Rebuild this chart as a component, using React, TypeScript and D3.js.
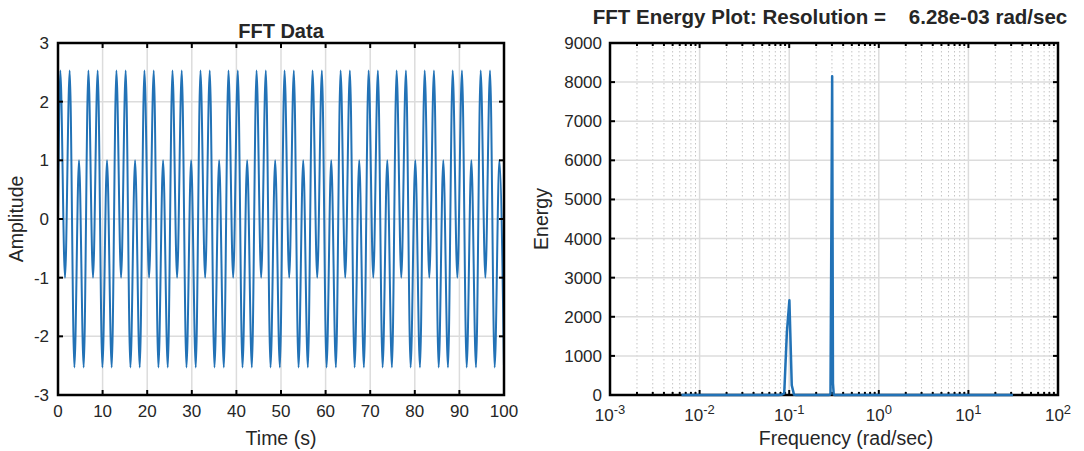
import * as d3 from 'd3';

// left panel: extrema of the time signal (t in s)
const timeS = [
  0, 0.52, 1.57, 2.62, 3.67, 4.71, 5.76, 6.81, 7.85, 8.9, 9.95, 10.99, 12.04,
  13.09, 14.14, 15.18, 16.23, 17.28, 18.33, 19.37, 20.42, 21.47, 22.51, 23.56, 24.61,
  25.66, 26.7, 27.75, 28.8, 29.85, 30.89, 31.94, 32.99, 34.03, 35.08, 36.13, 37.18,
  38.22, 39.27, 40.32, 41.36, 42.41, 43.46, 44.51, 45.55, 46.6, 47.65, 48.69, 49.74,
  50.79, 51.84, 52.88, 53.93, 54.98, 56.02, 57.07, 58.12, 59.17, 60.21, 61.26, 62.31,
  63.36, 64.4, 65.45, 66.5, 67.54, 68.59, 69.64, 70.69, 71.73, 72.78, 73.83, 74.87,
  75.92, 76.97, 78.02, 79.06, 80.11, 81.16, 82.21, 83.25, 84.3, 85.35, 86.39, 87.44,
  88.49, 89.54, 90.58, 91.63, 92.68, 93.72, 94.77, 95.82, 96.87, 97.91, 98.96, 100,
];
const amplitude = [
  0,
  2.53, -1, 2.53, -2.53, 1, -2.53,
  2.53, -1, 2.53, -2.53, 1, -2.53,
  2.53, -1, 2.53, -2.53, 1, -2.53,
  2.53, -1, 2.53, -2.53, 1, -2.53,
  2.53, -1, 2.53, -2.53, 1, -2.53,
  2.53, -1, 2.53, -2.53, 1, -2.53,
  2.53, -1, 2.53, -2.53, 1, -2.53,
  2.53, -1, 2.53, -2.53, 1, -2.53,
  2.53, -1, 2.53, -2.53, 1, -2.53,
  2.53, -1, 2.53, -2.53, 1, -2.53,
  2.53, -1, 2.53, -2.53, 1, -2.53,
  2.53, -1, 2.53, -2.53, 1, -2.53,
  2.53, -1, 2.53, -2.53, 1, -2.53,
  2.53, -1, 2.53, -2.53, 1, -2.53,
  2.53, -1, 2.53, -2.53, 1, -2.53,
  2.53, -1, 2.53, -2.53, 1, -2.53,
];

// right panel: energy spectrum (rad/sec)
const freqRad = [
  0.00628, 0.0754, 0.0817, 0.088, 0.0942, 0.1005, 0.1068, 0.1131, 0.1194,
  0.2764, 0.2827, 0.289, 0.2953, 0.3016, 0.3079, 0.3142, 0.3204, 31.4,
];
const energy = [0, 0, 5, 40, 1600, 2420, 250, 10, 0, 0, 5, 30, 4100, 8150, 300, 10, 0, 0];

const timeTicks = [0, 10, 20, 30, 40, 50, 60, 70, 80, 90, 100];
const ampTicks = [-3, -2, -1, 0, 1, 2, 3];
const energyTicks = [0, 1000, 2000, 3000, 4000, 5000, 6000, 7000, 8000, 9000];
const decadeExps = [-3, -2, -1, 0, 1, 2];

const FONT = 'Liberation Sans, Arial, Helvetica, sans-serif';
const BLUE = '#2272b6';
const TXT = '#262626';
const GRID = '#dcdcdc';

const App = () => {
  const top = 43;
  const bottom = 395;

  // left axes
  const x1 = d3.scaleLinear().domain([0, 100]).range([58, 504]);
  const y1 = d3.scaleLinear().domain([-3, 3]).range([bottom, top]);
  const sig = d3
    .line<number>()
    .x((_, i) => x1(timeS[i]))
    .y((d) => y1(d))
    .curve(d3.curveMonotoneX)(amplitude);

  // right axes
  const x2 = d3.scaleLog().domain([1e-3, 1e2]).range([610, 1058]);
  const y2 = d3.scaleLinear().domain([0, 9000]).range([bottom, top]);
  const spec = d3
    .line<number>()
    .x((_, i) => x2(freqRad[i]))
    .y((d) => y2(d))(energy);

  const minors: number[] = [];
  decadeExps.slice(0, -1).forEach((e) => {
    for (let m = 2; m <= 9; m++) minors.push(m * Math.pow(10, e));
  });

  return (
    <svg
      width={1084}
      height={451}
      style={{ position: 'fixed', left: 0, top: 0, background: '#fff' }}
      fontFamily={FONT}
    >
      {/* ---------- left: FFT Data ---------- */}
      <g>
        {timeTicks.map((t) => (
          <line key={'gx' + t} x1={x1(t)} x2={x1(t)} y1={top} y2={bottom} stroke={GRID} strokeWidth={1.5} />
        ))}
        {ampTicks.map((a) => (
          <line key={'gy' + a} x1={58} x2={504} y1={y1(a)} y2={y1(a)} stroke={GRID} strokeWidth={1.5} />
        ))}
        <path d={sig ?? ''} fill="none" stroke={BLUE} strokeWidth={2} strokeLinejoin="round" />
        <rect x={58} y={top} width={504 - 58} height={bottom - top} fill="none" stroke="#000" strokeWidth={2.5} />
        {timeTicks.map((t) => (
          <g key={'tx' + t}>
            <line x1={x1(t)} x2={x1(t)} y1={bottom} y2={bottom - 5} stroke="#000" strokeWidth={2} />
            <line x1={x1(t)} x2={x1(t)} y1={top} y2={top + 5} stroke="#000" strokeWidth={2} />
            <text x={x1(t)} y={417} textAnchor="middle" fontSize={17} fill={TXT}>
              {t}
            </text>
          </g>
        ))}
        {ampTicks.map((a) => (
          <g key={'ty' + a}>
            <line x1={58} x2={63} y1={y1(a)} y2={y1(a)} stroke="#000" strokeWidth={2} />
            <line x1={504} x2={499} y1={y1(a)} y2={y1(a)} stroke="#000" strokeWidth={2} />
            <text x={49} y={y1(a) + 6} textAnchor="end" fontSize={17} fill={TXT}>
              {a}
            </text>
          </g>
        ))}
        <text x={281} y={38} textAnchor="middle" fontSize={20} fontWeight="bold" fill={TXT}>
          FFT Data
        </text>
        <text x={281} y={445} textAnchor="middle" fontSize={19.5} fill={TXT}>
          Time (s)
        </text>
        <text transform={`translate(23,${(top + bottom) / 2}) rotate(-90)`} textAnchor="middle" fontSize={19.5} fill={TXT}>
          Amplitude
        </text>
      </g>

      {/* ---------- right: FFT Energy Plot ---------- */}
      <g>
        {minors.map((f, i) => (
          <line
            key={'mg' + i}
            x1={x2(f)}
            x2={x2(f)}
            y1={top}
            y2={bottom}
            stroke="#c4c4c4"
            strokeWidth={1}
            strokeDasharray="1.5,2.5"
          />
        ))}
        {decadeExps.map((e) => (
          <line key={'dg' + e} x1={x2(Math.pow(10, e))} x2={x2(Math.pow(10, e))} y1={top} y2={bottom} stroke={GRID} strokeWidth={1.5} />
        ))}
        {energyTicks.map((v) => (
          <line key={'eg' + v} x1={610} x2={1058} y1={y2(v)} y2={y2(v)} stroke={GRID} strokeWidth={1.5} />
        ))}
        <rect x={610} y={top} width={1058 - 610} height={bottom - top} fill="none" stroke="#000" strokeWidth={2.5} />
        {minors.map((f, i) => (
          <g key={'mt' + i}>
            <line x1={x2(f)} x2={x2(f)} y1={bottom} y2={bottom - 3} stroke="#000" strokeWidth={2} />
            <line x1={x2(f)} x2={x2(f)} y1={top} y2={top + 3} stroke="#000" strokeWidth={2} />
          </g>
        ))}
        {decadeExps.map((e) => (
          <g key={'dt' + e}>
            <line x1={x2(Math.pow(10, e))} x2={x2(Math.pow(10, e))} y1={bottom} y2={bottom - 5} stroke="#000" strokeWidth={2} />
            <line x1={x2(Math.pow(10, e))} x2={x2(Math.pow(10, e))} y1={top} y2={top + 5} stroke="#000" strokeWidth={2} />
            <text x={x2(Math.pow(10, e))} y={421} textAnchor="middle" fontSize={17} fill={TXT}>
              <tspan>10</tspan>
              <tspan dy={-7} fontSize={13}>
                {e}
              </tspan>
            </text>
          </g>
        ))}
        {energyTicks.map((v) => (
          <g key={'et' + v}>
            <line x1={610} x2={615} y1={y2(v)} y2={y2(v)} stroke="#000" strokeWidth={2} />
            <line x1={1058} x2={1053} y1={y2(v)} y2={y2(v)} stroke="#000" strokeWidth={2} />
            <text x={602} y={y2(v) + 6} textAnchor="end" fontSize={17} fill={TXT}>
              {v}
            </text>
          </g>
        ))}
        <path d={spec ?? ''} fill="none" stroke={BLUE} strokeWidth={2.5} strokeLinejoin="round" />
        <text x={830} y={24} textAnchor="middle" fontSize={20.5} fontWeight="bold" fill={TXT} style={{ whiteSpace: 'pre' }}>
          {'FFT Energy Plot: Resolution =    6.28e-03 rad/sec'}
        </text>
        <text x={846} y={445} textAnchor="middle" fontSize={19.5} fill={TXT}>
          Frequency (rad/sec)
        </text>
        <text transform={`translate(548,${(top + bottom) / 2}) rotate(-90)`} textAnchor="middle" fontSize={19.5} fill={TXT}>
          Energy
        </text>
      </g>
    </svg>
  );
};

export default App;
